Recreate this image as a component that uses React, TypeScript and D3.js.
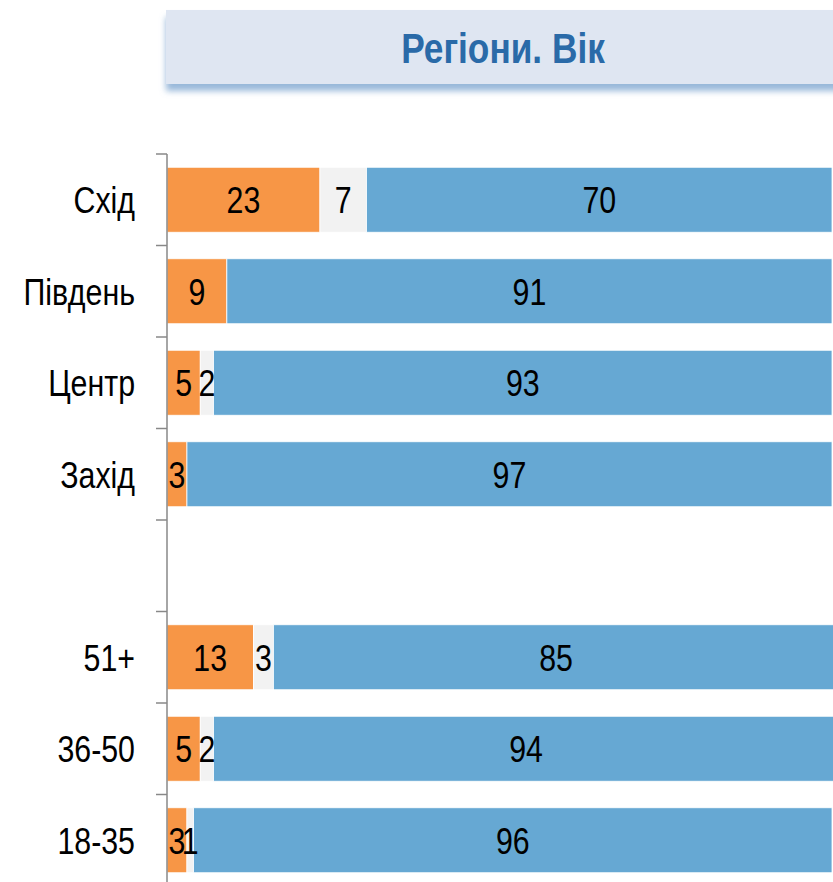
import React from "react";
import * as d3 from "d3";

const categories = ["Схід", "Південь", "Центр", "Захід", "", "51+", "36-50", "18-35"];
const seriesNames = ["yes", "hard", "no"];
const yesValues = [23, 9, 5, 3, null, 13, 5, 3];
const hardValues = [7, 0, 2, 0, null, 3, 2, 1];
const noValues = [70, 91, 93, 97, null, 85, 94, 96];
const colors = ["#F79646", "#F2F2F2", "#66A8D3"];
const title = "Регіони. Вік";

const W = 833;
const H = 882;
// no narrow font installed, so squeeze Liberation Sans horizontally
const FONT = "'Liberation Sans', Arial, sans-serif";
const NARROW = 0.82;

const App = () => {
  const keys = categories.map((c, i) => (c === "" ? "gap" + i : c));
  const y = d3.scaleBand<string>().domain(keys).range([154, 886]).paddingInner(0.29).paddingOuter(0.145);
  const x = d3.scaleLinear().domain([0, 100]).range([167, 832]);

  const rows = categories.map((c, i) => ({
    key: keys[i],
    yes: yesValues[i] ?? 0,
    hard: hardValues[i] ?? 0,
    no: noValues[i] ?? 0,
    empty: yesValues[i] === null,
  }));
  const stacked = d3.stack<any>().keys(seriesNames)(rows);

  const step = y.step();
  const ticks = d3.range(categories.length + 1).map((i) => 154 + i * step);

  return (
    <div style={{ position: "absolute", left: 0, top: 0 }}>
      <svg width={W} height={H} style={{ display: "block" }}>
        <defs>
          <filter id="shadow" x="-10%" y="-30%" width="120%" height="180%">
            <feDropShadow dx="0" dy="7" stdDeviation="3" floodColor="#7FA6D0" floodOpacity="0.8" />
          </filter>
        </defs>

        {/* title box */}
        <rect x={166} y={10} width={700} height={74} fill="#DFE6F2" filter="url(#shadow)" />
        <text
          transform={`translate(503,63) scale(${NARROW},1)`}
          textAnchor="middle"
          fontFamily={FONT}
          fontWeight="bold"
          fontSize={43}
          fill="#2A6AA8"
        >
          {title}
        </text>

        {/* bars */}
        {stacked.map((s, si) =>
          s.map((d, i) => {
            if (rows[i].empty || d[1] - d[0] <= 0) return null;
            return (
              <rect
                key={si + "-" + i}
                x={x(d[0])}
                y={y(rows[i].key)}
                width={x(d[1]) - x(d[0])}
                height={y.bandwidth()}
                fill={colors[si]}
                stroke="#ffffff"
                strokeWidth={0.8}
              />
            );
          })
        )}
        {stacked.map((s, si) =>
          s.map((d, i) => {
            if (rows[i].empty || d[1] - d[0] <= 0) return null;
            const cx = (x(d[0]) + x(d[1])) / 2;
            const cy = (y(rows[i].key) as number) + y.bandwidth() / 2;
            return (
              <text
                key={"t" + si + "-" + i}
                transform={`translate(${cx},${cy}) scale(${NARROW},1)`}
                dy="0.36em"
                textAnchor="middle"
                fontFamily={FONT}
                fontSize={37}
                fill="#000"
              >
                {d[1] - d[0]}
              </text>
            );
          })
        )}

        {/* axis */}
        <line x1={167} x2={167} y1={154} y2={H} stroke="#888" strokeWidth={1.5} />
        {ticks.map((t, i) => (
          <line key={"tk" + i} x1={156} x2={167} y1={t} y2={t} stroke="#888" strokeWidth={1.5} />
        ))}
        {categories.map((c, i) => (
          <text
            key={"c" + i}
            transform={`translate(135,${(y(keys[i]) as number) + y.bandwidth() / 2}) scale(${NARROW},1)`}
            dy="0.36em"
            textAnchor="end"
            fontFamily={FONT}
            fontSize={37}
            fill="#000"
          >
            {c}
          </text>
        ))}
      </svg>
    </div>
  );
};

export default App;
